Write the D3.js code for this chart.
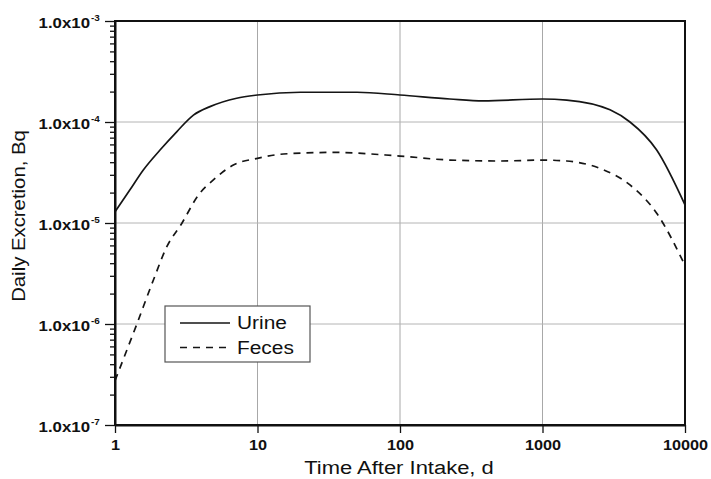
<!DOCTYPE html>
<html>
<head>
<meta charset="utf-8">
<script src="https://cdn.jsdelivr.net/npm/d3@7"></script>
<style>
  body { margin: 0; background: #fff; }
  svg { display: block; font-family: "Liberation Sans", Arial, sans-serif; }
</style>
</head>
<body>
<div id="chart"></div>
<script>
// values (days, Bq)
const urineDays = [1, 1.27, 1.58, 2.07, 2.71, 3.55, 4.64, 7.14, 10, 20, 50, 100, 224, 384, 1000, 1479, 2977, 4110, 6330, 10000];
const urineBq   = [1.29e-5, 2.12e-5, 3.35e-5, 5.28e-5, 8.0e-5, 1.17e-4, 1.42e-4, 1.72e-4, 1.85e-4, 1.97e-4, 1.97e-4, 1.85e-4, 1.69e-4, 1.62e-4, 1.69e-4, 1.65e-4, 1.32e-4, 1.0e-4, 5.28e-5, 1.51e-5];

const fecesDays = [1, 1.42, 1.86, 2.31, 2.94, 3.85, 4.9, 6.77, 10, 15.2, 34, 100, 224, 503, 1000, 1479, 2533, 4110, 6330, 10000];
const fecesBq   = [2.75e-7, 9.9e-7, 2.73e-6, 5.82e-6, 9.9e-6, 1.89e-5, 2.67e-5, 3.75e-5, 4.37e-5, 4.82e-5, 5.0e-5, 4.6e-5, 4.2e-5, 4.11e-5, 4.2e-5, 4.11e-5, 3.47e-5, 2.38e-5, 1.25e-5, 3.8e-6];

const xTicks = [1, 10, 100, 1000, 10000];
const yTicks = [1e-7, 1e-6, 1e-5, 1e-4, 1e-3];
const legendLabels = ["Urine", "Feces"];

const width = 711, height = 479;
const margin = {top: 21, right: 26, bottom: 54, left: 115};
const innerWidth = width - margin.left - margin.right;
const innerHeight = height - margin.top - margin.bottom;

// the reference text is drawn a bit wider than the font; stretch to match
const stretch = (sel, k) => sel.each(function() {
  const len = this.getComputedTextLength();
  d3.select(this).attr("textLength", len * k).attr("lengthAdjust", "spacingAndGlyphs");
});

const svg = d3.select("#chart").append("svg")
  .attr("width", width).attr("height", height);

const inner = svg.append("g")
  .attr("transform", `translate(${margin.left},${margin.top})`);

const x = d3.scaleLog().domain([1, 10000]).range([0, innerWidth]);
const y = d3.scaleLog().domain([1e-7, 1e-3]).range([innerHeight, 0]);

// grid lines
const grid = inner.append("g").attr("class", "grid");

grid.selectAll("line.v")
  .data(xTicks.slice(1, -1))
  .join("line")
    .attr("class", "v")
    .attr("x1", d => x(d)).attr("x2", d => x(d))
    .attr("y1", 0).attr("y2", innerHeight)
    .attr("stroke", "#a8a8a8").attr("stroke-width", 1);

grid.selectAll("line.h")
  .data(yTicks.slice(1, -1))
  .join("line")
    .attr("class", "h")
    .attr("x1", 0).attr("x2", innerWidth)
    .attr("y1", d => y(d)).attr("y2", d => y(d))
    .attr("stroke", "#b4b4b4").attr("stroke-width", 1);

// curves
const line = d3.line()
  .x(d => x(d[0]))
  .y(d => y(d[1]))
  .curve(d3.curveMonotoneX);

inner.append("path")
  .datum(d3.zip(urineDays, urineBq))
  .attr("d", line)
  .attr("fill", "none")
  .attr("stroke", "#151515")
  .attr("stroke-width", 1.7);

inner.append("path")
  .datum(d3.zip(fecesDays, fecesBq))
  .attr("d", line)
  .attr("fill", "none")
  .attr("stroke", "#151515")
  .attr("stroke-width", 1.7)
  .attr("stroke-dasharray", "7,6");

// frame
inner.append("rect")
  .attr("width", innerWidth).attr("height", innerHeight)
  .attr("fill", "none").attr("stroke", "#111").attr("stroke-width", 2);

// y axis: minor ticks, then major ticks with labels
const minorY = y.ticks().filter(d => !yTicks.some(t => Math.abs(t - d) / t < 1e-6));

inner.append("g")
  .call(d3.axisLeft(y).tickValues(minorY).tickSize(5).tickSizeOuter(0).tickFormat(""))
  .call(g => g.select(".domain").remove())
  .call(g => g.selectAll(".tick line").attr("stroke", "#111").attr("stroke-width", 1.3));

const yAxis = inner.append("g")
  .call(d3.axisLeft(y).tickValues(yTicks).tickSize(10).tickSizeOuter(0).tickFormat(""))
  .call(g => g.select(".domain").attr("stroke", "#111").attr("stroke-width", 2))
  .call(g => g.selectAll(".tick line").attr("stroke", "#111").attr("stroke-width", 1.3));

// "1.0x10" mantissa and the exponent as a separate superscript text
yAxis.selectAll(".tick").append("text")
  .attr("class", "mant")
  .attr("x", -25).attr("y", 6)
  .attr("text-anchor", "end")
  .attr("fill", "#111")
  .attr("font-weight", "bold")
  .attr("font-size", 14)
  .text("1.0x10")
  .call(stretch, 1.2);

yAxis.selectAll(".tick").append("text")
  .attr("class", "exp")
  .attr("x", -24).attr("y", -1)
  .attr("text-anchor", "start")
  .attr("fill", "#111")
  .attr("font-weight", "bold")
  .attr("font-size", 9)
  .text(d => String(Math.round(Math.log10(d))))
  .call(stretch, 1.1);

// x axis
const xAxis = inner.append("g")
  .attr("transform", `translate(0,${innerHeight})`)
  .call(d3.axisBottom(x).tickValues(xTicks).tickSize(8).tickSizeOuter(0).tickFormat(""))
  .call(g => g.select(".domain").attr("stroke", "#111").attr("stroke-width", 2))
  .call(g => g.selectAll(".tick line").attr("stroke", "#111").attr("stroke-width", 1.3));

xAxis.selectAll(".tick").append("text")
  .attr("y", 25)
  .attr("text-anchor", "middle")
  .attr("fill", "#111")
  .attr("font-weight", "bold")
  .attr("font-size", 14)
  .text(d => d3.format("d")(d))
  .call(stretch, 1.16);

// axis titles
svg.append("text")
  .attr("x", margin.left + innerWidth / 2 - 1).attr("y", 474)
  .attr("text-anchor", "middle")
  .attr("font-size", 18)
  .attr("fill", "#111")
  .text("Time After Intake, d")
  .call(stretch, 1.22);

svg.append("text")
  .attr("transform", "translate(25,216) rotate(-90)")
  .attr("text-anchor", "middle")
  .attr("font-size", 19)
  .attr("fill", "#111")
  .text("Daily Excretion, Bq")
  .call(stretch, 1.07);

// legend
const legend = inner.append("g").attr("transform", "translate(50,285)");
legend.append("rect")
  .attr("width", 145).attr("height", 56)
  .attr("fill", "#fff").attr("stroke", "#555").attr("stroke-width", 1.2);

const items = legend.selectAll("g.item")
  .data(legendLabels)
  .join("g")
    .attr("class", "item")
    .attr("transform", (d, i) => `translate(0,${17 + i * 24.5})`);

items.append("line")
  .attr("x1", 15).attr("x2", 65)
  .attr("stroke", "#151515").attr("stroke-width", 1.6)
  .attr("stroke-dasharray", (d, i) => i ? "7,6" : null);

items.append("text")
  .attr("x", 72).attr("y", 6)
  .attr("font-size", 18)
  .attr("fill", "#111")
  .text(d => d)
  .call(stretch, 1.16);
</script>
</body>
</html>
